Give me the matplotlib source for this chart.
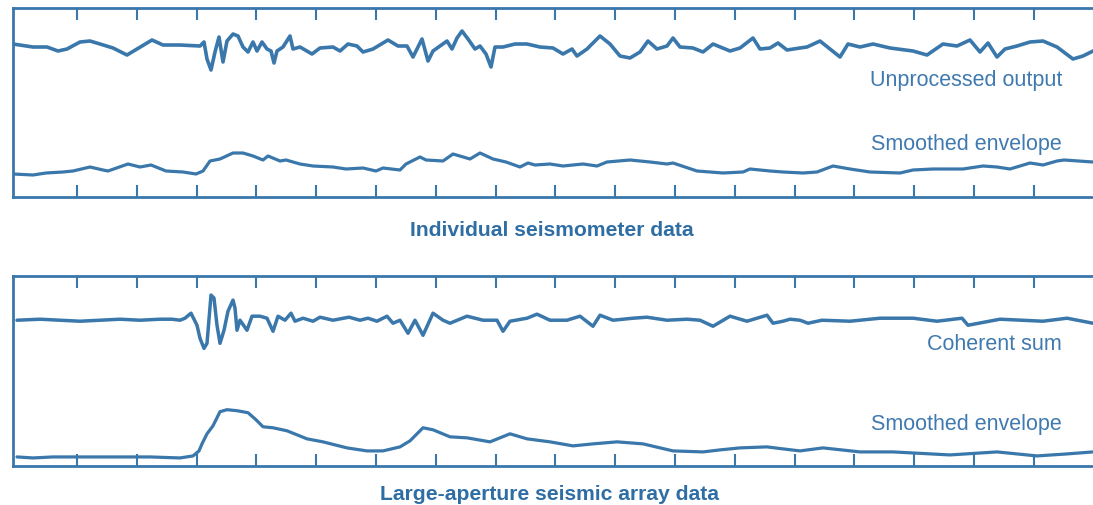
import numpy as np
import matplotlib
matplotlib.use('Agg')
import matplotlib.pyplot as plt

# sample positions (time, arbitrary units) and amplitudes

# individual seismometer: raw output
unproc_x = [13, 33, 47, 58, 67, 80, 90, 100, 113, 127, 137, 152, 163, 180, 200, 204, 207, 211, 215, 219,
            223, 227, 233, 238, 243, 248, 253, 257, 262, 267, 271, 274, 277, 283, 290, 293, 300, 312, 320, 333,
            340, 348, 357, 363, 373, 388, 398, 407, 413, 422, 428, 433, 440, 447, 452, 457, 462, 468, 475, 480,
            486, 491, 495, 503, 515, 527, 540, 553, 563, 572, 577, 587, 600, 610, 620, 630, 640, 648, 657, 667,
            673, 680, 693, 703, 713, 730, 740, 753, 760, 770, 778, 787, 800, 807, 820, 830, 840, 848, 860, 873,
            890, 913, 927, 943, 957, 970, 980, 988, 997, 1005, 1017, 1030, 1043, 1057, 1073, 1083, 1093]
unproc_amp = [1, -2, -2, -6, -4, 3, 4, 1, -3, -10, -4, 5, 0, 0, -1, 3, -14, -25, -7, 8,
              -17, 4, 11, 9, -2, -7, 3, -6, 3, -4, -6, -18, -6, -2, 9, -4, -2, -9, -3, -2,
              -6, 1, -1, -7, -4, 5, -1, -1, -12, 6, -16, -6, -1, 4, -4, 7, 14, 6, -4, -1,
              -9, -22, -2, -2, 1, 1, -2, -3, -9, -4, -11, -4, 9, 1, -11, -13, -7, 4, -4, -1,
              7, -2, -3, -7, 1, -6, -3, 7, -4, -3, 2, -5, -3, -2, 4, -4, -12, 1, -2, 1,
              -3, -6, -10, 1, -1, 5, -7, 2, -12, -4, -1, 3, 4, -2, -14, -11, -6]

# individual seismometer: smoothed envelope
env1_x = [13, 33, 46, 63, 73, 90, 103, 108, 128, 140, 151, 166, 183, 196, 203, 210, 220, 233, 243, 253,
          263, 268, 280, 286, 300, 313, 333, 346, 363, 376, 383, 400, 406, 420, 426, 443, 453, 470, 480, 493,
          506, 520, 528, 535, 550, 563, 583, 597, 607, 630, 650, 667, 673, 697, 723, 743, 750, 770, 783, 803,
          817, 833, 850, 870, 900, 913, 933, 963, 983, 997, 1010, 1030, 1043, 1057, 1064, 1093]
env1_amp = [1, 0, 2, 3, 4, 8, 5, 4, 11, 8, 10, 4, 3, 1, 4, 14, 16, 22, 22, 19,
            15, 19, 14, 15, 11, 9, 8, 6, 7, 4, 7, 5, 11, 18, 15, 14, 21, 16, 22, 16,
            13, 8, 12, 10, 11, 9, 11, 9, 13, 15, 13, 11, 12, 4, 2, 3, 6, 4, 3, 2,
            3, 9, 6, 3, 2, 5, 6, 6, 9, 8, 6, 12, 10, 14, 15, 13]

# array: coherent sum
coh_x = [17, 40, 60, 80, 100, 120, 140, 160, 172, 180, 185, 191, 197, 200, 204, 207, 211, 214, 217, 220,
         224, 228, 233, 235, 237, 240, 247, 252, 260, 267, 273, 278, 285, 291, 295, 303, 313, 320, 333, 349,
         360, 368, 377, 387, 393, 400, 408, 415, 423, 433, 443, 450, 467, 483, 497, 503, 510, 527, 537, 550,
         567, 580, 593, 600, 613, 633, 647, 667, 687, 700, 713, 730, 747, 767, 773, 783, 790, 800, 808, 822,
         850, 880, 913, 937, 962, 968, 1000, 1043, 1067, 1093]
coh_amp = [0, 1, 0, -1, 0, 1, 0, 1, 1, 0, 2, 7, -5, -18, -28, -23, 25, 22, -5, -23,
           -10, 9, 20, 12, -10, 0, -10, 4, 4, 2, -11, 4, 0, 7, -1, 2, -1, 3, 0, 3,
           0, 2, -1, 4, -3, 0, -13, 0, -15, 7, 0, -3, 4, 0, 0, -11, -1, 2, 6, 0,
           0, 4, -6, 5, 0, 2, 3, 0, 1, 0, -6, 4, -1, 5, -3, -1, 1, 0, -3, 0,
           -1, 2, 2, -1, 2, -5, 1, -1, 2, -3]

# array: smoothed envelope
env2_x = [17, 33, 53, 100, 150, 180, 193, 199, 202, 207, 213, 220, 227, 237, 248, 256, 263, 273, 287, 307,
          323, 347, 367, 383, 400, 410, 423, 433, 450, 467, 490, 510, 527, 550, 573, 593, 617, 643, 673, 703,
          720, 740, 767, 783, 800, 823, 860, 893, 950, 997, 1037, 1067, 1093]
env2_amp = [1, 0, 1, 1, 1, 0, 2, 7, 14, 24, 32, 46, 48, 47, 45, 38, 31, 30, 27, 19,
            16, 10, 7, 7, 11, 17, 30, 28, 21, 20, 16, 24, 19, 16, 12, 14, 16, 14, 7, 6,
            8, 10, 11, 9, 7, 10, 6, 6, 3, 6, 2, 4, 6]

panel_titles = ['Individual seismometer data', 'Large-aperture seismic array data']
trace_labels = [['Unprocessed output', 'Smoothed envelope'], ['Coherent sum', 'Smoothed envelope']]

line_col = '#3a77ab'
text_col = '#4079af'
title_col = '#2f6ea5'

plt.rcParams['font.family'] = ['Liberation Sans', 'DejaVu Sans']

fig = plt.figure(figsize=(10.93, 5.06), dpi=100)
ax_top = fig.add_axes([13 / 1093, 0.6087, 1 - 13 / 1093, 0.3735])
ax_bot = fig.add_axes([13 / 1093, 0.0771, 1 - 13 / 1093, 0.3755])

# (x, amplitude, baseline, linewidth) per trace, plus label heights
panels = [
    (ax_top, [(unproc_x, unproc_amp, 152, 2.6), (env1_x, env1_amp, 22, 2.3)], [118, 54]),
    (ax_bot, [(coh_x, coh_amp, 145, 2.5), (env2_x, env2_amp, 8, 2.3)], [122, 42]),
]

for ax, traces, label_y in panels:
    for xs, amps, base, lw in traces:
        ax.plot(xs, np.array(amps) + base, color=line_col, lw=lw,
                solid_joinstyle='round', solid_capstyle='round')
    ax.set_xlim(13, 1093)
    ax.set_ylim(0, 189)
    ax.set_xticks(np.arange(77, 1093, 59.8))
    ax.set_yticks([])
    ax.tick_params(axis='x', direction='in', length=8.5, width=1.5, color=line_col,
                   top=True, bottom=True, labelbottom=False)
    for side in ['left', 'top', 'bottom']:
        ax.spines[side].set_color(line_col)
        ax.spines[side].set_linewidth(2.0)
    ax.spines['right'].set_visible(False)

for (ax, _, label_y), labels in zip(panels, trace_labels):
    for lab, yy in zip(labels, label_y):
        ax.text(1062, yy, lab, ha='right', va='center', fontsize=15.5, color=text_col)

fig.text(552 / 1093, 1 - 231 / 506, panel_titles[0], ha='center', va='center',
         fontsize=15.2, fontweight='bold', color=title_col)
fig.text(549 / 1093, 1 - 495 / 506, panel_titles[1], ha='center', va='center',
         fontsize=15.2, fontweight='bold', color=title_col)

plt.savefig('out.png', dpi=100)
